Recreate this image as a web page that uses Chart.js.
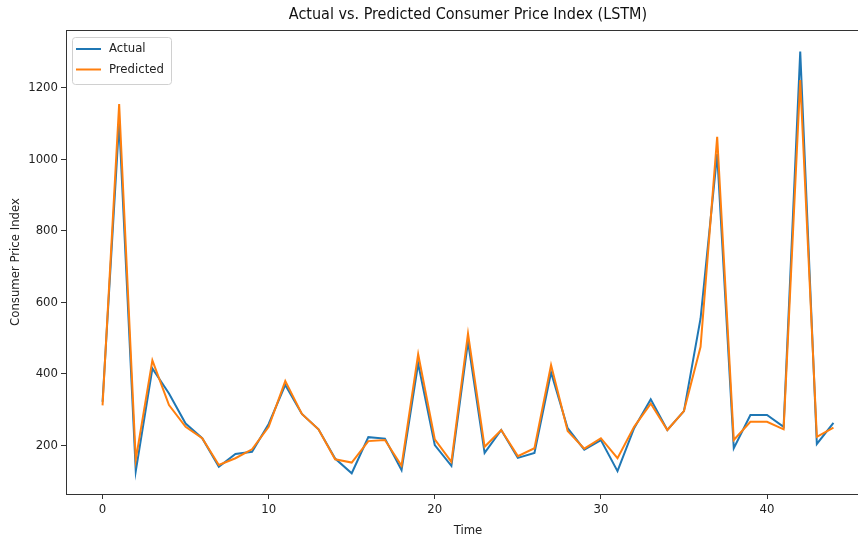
<!DOCTYPE html>
<html>
<head>
<meta charset="utf-8">
<script src="https://cdn.jsdelivr.net/npm/chart.js@4"></script>
<style>
  html, body { margin: 0; padding: 0; background: #fff; overflow: hidden; }
  #wrap { width: 870px; height: 538px; }
</style>
</head>
<body>
<div id="wrap"><canvas id="myChart" width="870" height="538"></canvas></div>
<script>
// data
const time = [0, 1, 2, 3, 4, 5, 6, 7, 8, 9, 10, 11, 12, 13, 14, 15, 16, 17, 18, 19, 20, 21, 22,
              23, 24, 25, 26, 27, 28, 29, 30, 31, 32, 33, 34, 35, 36, 37, 38, 39, 40, 41, 42, 43, 44];
const actual = [322, 1105, 128, 415, 345, 261, 220, 140, 176, 182, 260, 369, 288, 245, 163, 122,
                223, 219, 131, 429, 201, 143, 490, 179, 243, 165, 179, 404, 248, 188, 215, 128,
                248, 329, 243, 296, 555, 1015, 192, 285, 285, 252, 1302, 204, 263];
const predicted = [312, 1155, 160, 438, 313, 252, 220, 145, 164, 189, 252, 380, 288, 245, 161, 152,
                   212, 215, 143, 455, 217, 154, 513, 196, 243, 170, 192, 425, 240, 191, 220, 164,
                   252, 317, 243, 296, 476, 1063, 215, 266, 266, 245, 1222, 224, 250];
const xTicks = [0, 10, 20, 30, 40];
const yTicks = [200, 400, 600, 800, 1000, 1200];

const FONT = "'DejaVu Sans Condensed', 'DejaVu Sans', sans-serif";
const toPoints = (ys) => ys.map((y, i) => ({ x: time[i], y: y }));

const frame = {
    id: 'frame',
    afterDraw(chart) {
        const { ctx, chartArea: a } = chart;
        ctx.save();
        ctx.strokeStyle = '#333';
        ctx.lineWidth = 1;
        ctx.strokeRect(a.left + 0.5, a.top + 0.5, a.right - a.left, a.bottom - a.top);

        // legend box in the upper left corner
        const bx = a.left + 6, by = a.top + 7, bw = 99, bh = 47;
        ctx.fillStyle = 'rgba(255,255,255,0.8)';
        ctx.strokeStyle = '#d0d0d0';
        ctx.beginPath();
        ctx.roundRect(bx + 0.5, by + 0.5, bw, bh, 3);
        ctx.fill();
        ctx.stroke();
        ctx.font = '13px ' + FONT;
        ctx.textBaseline = 'middle';
        chart.data.datasets.forEach((ds, i) => {
            const y = by + 12 + i * 20.5;
            ctx.strokeStyle = ds.borderColor;
            ctx.lineWidth = 2;
            ctx.beginPath();
            ctx.moveTo(bx + 4, y);
            ctx.lineTo(bx + 29, y);
            ctx.stroke();
            ctx.fillStyle = '#222';
            ctx.fillText(ds.label, bx + 37, y);
        });
        ctx.restore();
    }
};

const ctx = document.getElementById('myChart').getContext('2d');
const myChart = new Chart(ctx, {
    type: 'line',
    data: {
        datasets: [{
            label: 'Actual',
            data: toPoints(actual),
            borderColor: '#1f77b4',
            borderWidth: 2,
            pointRadius: 0,
            fill: false,
            order: 1
        }, {
            label: 'Predicted',
            data: toPoints(predicted),
            borderColor: '#ff7f0e',
            borderWidth: 2,
            pointRadius: 0,
            fill: false,
            order: 0
        }]
    },
    options: {
        responsive: false,
        animation: false,
        devicePixelRatio: 1,
        layout: { padding: 0 },
        plugins: {
            legend: { display: false },
            tooltip: { enabled: false },
            title: {
                display: true,
                text: 'Actual vs. Predicted Consumer Price Index (LSTM)',
                fullSize: false,
                color: '#111',
                font: { family: FONT, size: 16, weight: 'normal', lineHeight: 1 },
                padding: { top: 7, bottom: 7 }
            }
        },
        scales: {
            x: {
                type: 'linear',
                min: -2.2,
                max: 46.2,
                afterBuildTicks: (s) => { s.ticks = xTicks.map(v => ({ value: v })); },
                afterFit: (s) => { s.height = 44; },
                grid: { drawOnChartArea: false, tickLength: 5, color: '#333' },
                border: { color: '#333' },
                ticks: { color: '#222', padding: 3, font: { family: FONT, size: 13 },
                         callback: (v) => String(v) },
                title: {
                    display: true, text: 'Time', color: '#222',
                    font: { family: FONT, size: 13 }, padding: { top: 0, bottom: 0 }
                }
            },
            y: {
                min: 64,
                max: 1362,
                afterBuildTicks: (s) => { s.ticks = yTicks.map(v => ({ value: v })); },
                afterFit: (s) => { s.width = 66; },
                grid: { drawOnChartArea: false, tickLength: 5, color: '#333' },
                border: { color: '#333' },
                ticks: { color: '#222', padding: 3, font: { family: FONT, size: 13 },
                         callback: (v) => String(v) },
                title: {
                    display: true, text: 'Consumer Price Index', color: '#222',
                    font: { family: FONT, size: 13 }, padding: { top: 8, bottom: 0 }
                }
            }
        }
    },
    plugins: [frame]
});
</script>
</body>
</html>
